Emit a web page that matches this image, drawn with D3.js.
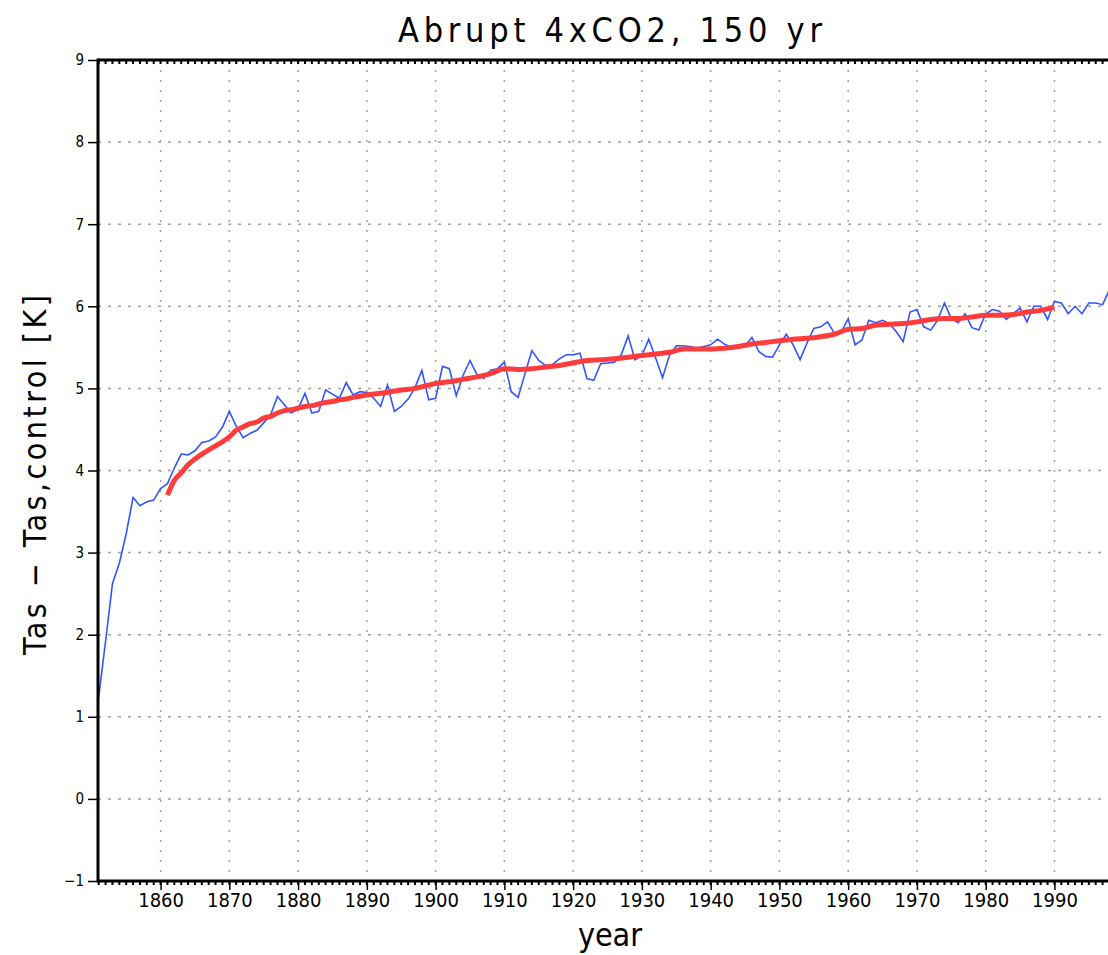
<!DOCTYPE html>
<html>
<head>
<meta charset="utf-8">
<script src="https://cdn.jsdelivr.net/npm/d3@7"></script>
<style>
  body { margin: 0; background: #fff; }
  text { font-family: "Liberation Sans Narrow", "DejaVu Sans Condensed", "Arial Narrow", sans-serif; fill: #000; }
</style>
</head>
<body>
<div id="chart"></div>
<script>
// annual global mean Tas anomaly, first year 1851
const blueStart = 1851;
const blueValues = [
  1.24, 1.92, 2.62, 2.87, 3.23, 3.67, 3.57, 3.62, 3.64, 3.78,
  3.84, 4.03, 4.20, 4.19, 4.24, 4.34, 4.36, 4.41, 4.53, 4.72,
  4.54, 4.40, 4.45, 4.49, 4.58, 4.68, 4.90, 4.80, 4.70, 4.75,
  4.94, 4.70, 4.72, 4.98, 4.93, 4.88, 5.07, 4.92, 4.96, 4.95,
  4.88, 4.78, 5.04, 4.72, 4.78, 4.87, 5.01, 5.22, 4.86, 4.88,
  5.27, 5.24, 4.91, 5.16, 5.34, 5.17, 5.12, 5.22, 5.24, 5.32,
  4.96, 4.89, 5.18, 5.46, 5.34, 5.28, 5.29, 5.36, 5.41, 5.41,
  5.43, 5.12, 5.10, 5.30, 5.31, 5.32, 5.41, 5.64, 5.35, 5.40,
  5.60, 5.37, 5.13, 5.40, 5.52, 5.52, 5.51, 5.49, 5.51, 5.53,
  5.60, 5.54, 5.50, 5.49, 5.52, 5.62, 5.45, 5.39, 5.38, 5.53,
  5.66, 5.53, 5.35, 5.55, 5.73, 5.75, 5.81, 5.67, 5.69, 5.85,
  5.53, 5.59, 5.83, 5.80, 5.83, 5.79, 5.69, 5.57, 5.93, 5.96,
  5.75, 5.71, 5.83, 6.04, 5.85, 5.80, 5.91, 5.74, 5.71, 5.91,
  5.96, 5.94, 5.84, 5.91, 5.98, 5.81, 6.00, 6.00, 5.84, 6.06,
  6.04, 5.91, 6.00, 5.91, 6.04, 6.04, 6.02, 6.20
];

// smoothed curve (red)
const redYears = [
  1861, 1862, 1863, 1864, 1865, 1866, 1867, 1868, 1869, 1870,
  1871, 1872, 1873, 1874, 1875, 1876, 1877, 1878, 1879, 1880,
  1881, 1882, 1883, 1884, 1885, 1886, 1887, 1888, 1890, 1892,
  1895, 1897, 1900, 1902, 1904, 1906, 1908, 1910, 1912, 1914,
  1916, 1918, 1920, 1922, 1924, 1926, 1928, 1930, 1932, 1934,
  1936, 1938, 1940, 1942, 1944, 1946, 1948, 1950, 1952, 1954,
  1956, 1958, 1960, 1962, 1964, 1966, 1968, 1970, 1972, 1974,
  1976, 1978, 1980, 1982, 1984, 1986, 1988, 1990
];
const redValues = [
  3.70, 3.88, 3.97, 4.07, 4.14, 4.20, 4.25, 4.30, 4.35, 4.41,
  4.49, 4.53, 4.57, 4.59, 4.64, 4.66, 4.70, 4.73, 4.74, 4.76,
  4.78, 4.79, 4.81, 4.83, 4.84, 4.86, 4.87, 4.89, 4.92, 4.94,
  4.98, 5.00, 5.06, 5.08, 5.11, 5.14, 5.18, 5.24, 5.23, 5.24,
  5.26, 5.28, 5.31, 5.34, 5.35, 5.36, 5.38, 5.40, 5.42, 5.44,
  5.48, 5.48, 5.48, 5.49, 5.51, 5.54, 5.56, 5.58, 5.60, 5.61,
  5.63, 5.66, 5.72, 5.73, 5.77, 5.78, 5.79, 5.81, 5.84, 5.85,
  5.85, 5.87, 5.89, 5.89, 5.90, 5.93, 5.95, 5.99
];

const xTicks = [1860, 1870, 1880, 1890, 1900, 1910, 1920, 1930, 1940, 1950, 1960, 1970, 1980, 1990];
const yTicks = [-1, 0, 1, 2, 3, 4, 5, 6, 7, 8, 9];

const W = 1108, H = 955;
const margin = { left: 98, top: 60, bottom: 881 };

const svg = d3.select("#chart").append("svg")
  .attr("width", W)
  .attr("height", H);

svg.append("rect").attr("width", W).attr("height", H).attr("fill", "#fff");

const x = d3.scaleLinear()
  .domain([1850.9, 1999.9])
  .range([margin.left, margin.left + 149 * 6.876]);

const y = d3.scaleLinear()
  .domain([-1, 9])
  .range([margin.bottom, margin.top]);

// grid
svg.append("g")
  .selectAll("line")
  .data(yTicks.filter(d => d > -1 && d < 9))
  .join("line")
  .attr("x1", margin.left).attr("x2", W)
  .attr("y1", d => y(d)).attr("y2", d => y(d))
  .attr("stroke", "#a0a0a0")
  .attr("stroke-width", 1.5)
  .attr("stroke-dasharray", "3,7");

svg.append("g")
  .selectAll("line")
  .data(xTicks)
  .join("line")
  .attr("x1", d => x(d)).attr("x2", d => x(d))
  .attr("y1", margin.top).attr("y2", margin.bottom)
  .attr("stroke", "#a0a0a0")
  .attr("stroke-width", 1.5)
  .attr("stroke-dasharray", "2,8");

// data lines
const blue = blueValues.map((v, i) => ({ yr: blueStart + i, v }));
const red = redYears.map((yr, i) => ({ yr, v: redValues[i] }));

svg.append("path")
  .datum(blue)
  .attr("fill", "none")
  .attr("stroke", "#3355ff")
  .attr("stroke-width", 1.6)
  .attr("d", d3.line().x(d => x(d.yr)).y(d => y(d.v)));

svg.append("path")
  .datum(red)
  .attr("fill", "none")
  .attr("stroke", "#ff3c3c")
  .attr("stroke-width", 5)
  .attr("d", d3.line().curve(d3.curveMonotoneX).x(d => x(d.yr)).y(d => y(d.v)));

// axes
const yAxis = svg.append("g")
  .attr("transform", `translate(${margin.left},0)`)
  .call(d3.axisLeft(y).tickValues(yTicks).tickSize(10).tickPadding(4).tickFormat(d => d < 0 ? "\u2212" + Math.abs(d) : d));
yAxis.select(".domain").remove();
yAxis.selectAll(".tick line").attr("stroke-width", 1.5);
yAxis.selectAll(".tick text").attr("font-size", 15).attr("font-family", null);

const minorYears = d3.range(1851, 2000);

const xAxis = svg.append("g")
  .attr("transform", `translate(0,${margin.bottom})`)
  .call(d3.axisBottom(x).tickValues(xTicks).tickSize(9).tickPadding(3).tickFormat(d3.format("d")));
xAxis.select(".domain").remove();
xAxis.selectAll(".tick line").attr("stroke-width", 1.5);
xAxis.selectAll(".tick text").attr("font-size", 20).attr("font-family", null);

svg.append("g")
  .selectAll("line")
  .data(minorYears)
  .join("line")
  .attr("x1", d => x(d)).attr("x2", d => x(d))
  .attr("y1", margin.bottom).attr("y2", margin.bottom + 4)
  .attr("stroke", "#000").attr("stroke-width", 2);

svg.append("g")
  .selectAll("line")
  .data(minorYears)
  .join("line")
  .attr("x1", d => x(d)).attr("x2", d => x(d))
  .attr("y1", margin.top).attr("y2", margin.top + 4)
  .attr("stroke", "#000").attr("stroke-width", 2);

// frame
svg.append("line").attr("x1", margin.left).attr("x2", W).attr("y1", margin.bottom).attr("y2", margin.bottom)
  .attr("stroke", "#000").attr("stroke-width", 3);
svg.append("line").attr("x1", margin.left).attr("x2", W).attr("y1", margin.top).attr("y2", margin.top)
  .attr("stroke", "#000").attr("stroke-width", 3);
svg.append("line").attr("x1", margin.left).attr("x2", margin.left)
  .attr("y1", margin.top - 1.5).attr("y2", margin.bottom + 1.5)
  .attr("stroke", "#000").attr("stroke-width", 3);

// titles
svg.append("text")
  .attr("x", 610).attr("y", 42)
  .attr("text-anchor", "middle")
  .attr("font-size", 34)
  .attr("textLength", 424)
  .attr("lengthAdjust", "spacing")
  .text("Abrupt 4xCO2, 150 yr");

svg.append("text")
  .attr("x", 610).attr("y", 946)
  .attr("text-anchor", "middle")
  .attr("font-size", 32)
  .attr("textLength", 64)
  .attr("lengthAdjust", "spacing")
  .text("year");

svg.append("text")
  .attr("transform", "translate(46,475) rotate(-90)")
  .attr("text-anchor", "middle")
  .attr("font-size", 32)
  .attr("textLength", 360)
  .attr("lengthAdjust", "spacing")
  .text("Tas \u2212 Tas,control [K]");
</script>
</body>
</html>
